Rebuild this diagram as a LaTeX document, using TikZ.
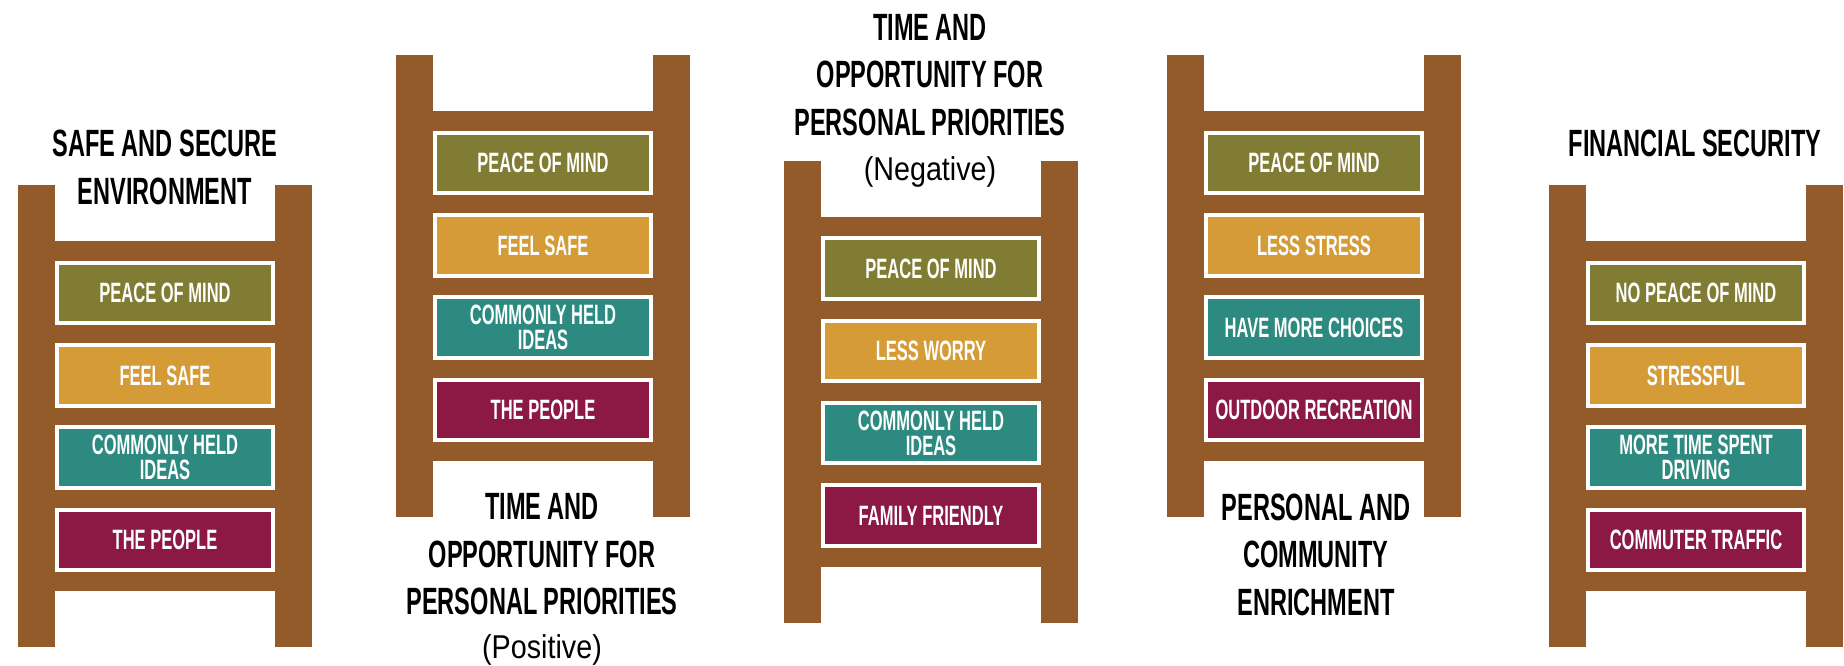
\documentclass[tikz,border=0pt]{standalone}
\usepackage{fontspec}
\setmainfont{Liberation Sans}
\newfontfamily\rungfont{Liberation Sans}[FakeStretch=0.59]
\newfontfamily\headfont{Liberation Sans}[FakeStretch=0.62]
\newfontfamily\lightfont{Liberation Sans}[FakeStretch=0.87]
\newcommand{\subhead}[1]{{\lightfont\mdseries\fontsize{33}{47.5}\selectfont #1}}
\definecolor{ladderbrown}{HTML}{935B29}
\definecolor{olive}{HTML}{817C33}
\definecolor{gold}{HTML}{D49B37}
\definecolor{teal}{HTML}{2D8A80}
\definecolor{maroon}{HTML}{8B1943}
\tikzset{
    rail/.style={fill=ladderbrown},
    rung/.style={rectangle, draw=white, line width=4pt, text=white, align=center, inner sep=0pt,
        minimum width=216pt, minimum height=60.5pt, font=\rungfont\bfseries\fontsize{28}{25}\selectfont},
    heading/.style={align=center, inner sep=0pt, anchor=north, font=\headfont\bfseries\fontsize{38}{47.5}\selectfont}
}

\begin{document}
\begin{tikzpicture}[x=1pt, y=-1pt]
        \useasboundingbox (0,0) rectangle (1844,666);
        \begin{scope}[shift={(18,185)}]
                \fill[rail] (0,0) rectangle (37,462);
                \fill[rail] (257,0) rectangle (294,462);
                \fill[rail] (0,56) rectangle (294,406);
                \node (ta) [heading, font=\headfont\bfseries\fontsize{38}{48.5}\selectfont] at (147,-55.5) {SAFE AND SECURE\\ENVIRONMENT};
                \node (a1) [rung, fill=olive] at (147,108) {PEACE OF MIND};
                \node (a2) [rung, fill=gold] at (147,190.4) {FEEL SAFE};
                \node (a3) [rung, fill=teal] at (147,272.5) {COMMONLY HELD\\IDEAS};
                \node (a4) [rung, fill=maroon] at (147,355.1) {THE PEOPLE};
        \end{scope}
        \begin{scope}[shift={(396,55)}]
                \fill[rail] (0,0) rectangle (37,462);
                \fill[rail] (257,0) rectangle (294,462);
                \fill[rail] (0,56) rectangle (294,406);
                \node (b1) [rung, fill=olive] at (147,108) {PEACE OF MIND};
                \node (b2) [rung, fill=gold] at (147,190.4) {FEEL SAFE};
                \node (b3) [rung, fill=teal] at (147,272.5) {COMMONLY HELD\\IDEAS};
                \node (b4) [rung, fill=maroon] at (147,355.1) {THE PEOPLE};
                \node (tb) [heading] at (146,438.3) {TIME AND\\OPPORTUNITY FOR\\PERSONAL PRIORITIES\\[-4pt]\subhead{(Positive)}};
        \end{scope}
        \begin{scope}[shift={(784,160.5)}]
                \fill[rail] (0,0) rectangle (37,462);
                \fill[rail] (257,0) rectangle (294,462);
                \fill[rail] (0,56) rectangle (294,406);
                \node (tc) [heading] at (146,-146.8) {TIME AND\\OPPORTUNITY FOR\\PERSONAL PRIORITIES\\[-2pt]\subhead{(Negative)}};
                \node (c1) [rung, fill=olive] at (147,108) {PEACE OF MIND};
                \node (c2) [rung, fill=gold] at (147,190.4) {LESS WORRY};
                \node (c3) [rung, fill=teal] at (147,272.5) {COMMONLY HELD\\IDEAS};
                \node (c4) [rung, fill=maroon] at (147,355.1) {FAMILY FRIENDLY};
        \end{scope}
        \begin{scope}[shift={(1167,55)}]
                \fill[rail] (0,0) rectangle (37,462);
                \fill[rail] (257,0) rectangle (294,462);
                \fill[rail] (0,56) rectangle (294,406);
                \node (d1) [rung, fill=olive] at (147,108) {PEACE OF MIND};
                \node (d2) [rung, fill=gold] at (147,190.4) {LESS STRESS};
                \node (d3) [rung, fill=teal] at (147,272.5) {HAVE MORE CHOICES};
                \node (d4) [rung, fill=maroon] at (147,355.1) {OUTDOOR RECREATION};
                \node (td) [heading] at (149,438.3) {PERSONAL AND\\COMMUNITY\\ENRICHMENT};
        \end{scope}
        \begin{scope}[shift={(1549,185)}]
                \fill[rail] (0,0) rectangle (37,462);
                \fill[rail] (257,0) rectangle (294,462);
                \fill[rail] (0,56) rectangle (294,406);
                \node (te) [heading] at (146,-55.5) {FINANCIAL SECURITY};
                \node (e1) [rung, fill=olive] at (147,108) {NO PEACE OF MIND};
                \node (e2) [rung, fill=gold] at (147,190.4) {STRESSFUL};
                \node (e3) [rung, fill=teal] at (147,272.5) {MORE TIME SPENT\\DRIVING};
                \node (e4) [rung, fill=maroon] at (147,355.1) {COMMUTER TRAFFIC};
        \end{scope}
\end{tikzpicture}
\end{document}
